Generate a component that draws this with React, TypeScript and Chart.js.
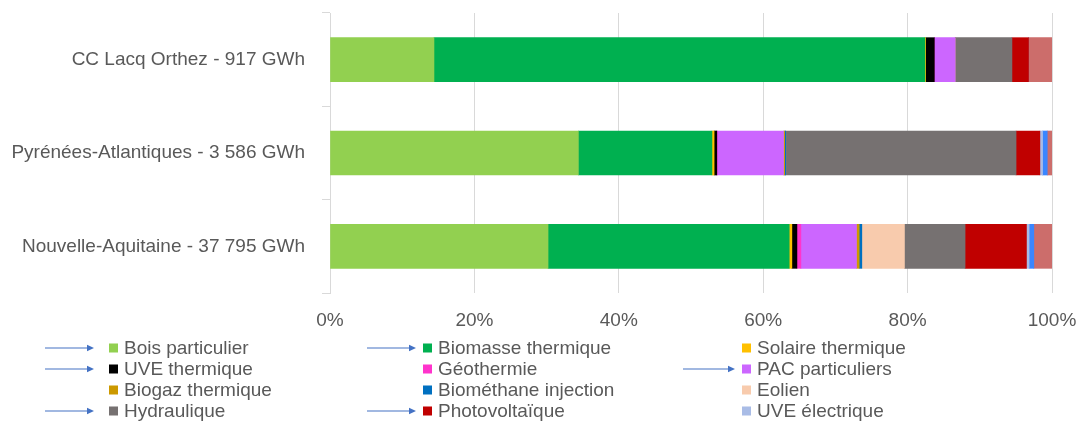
import React, { useEffect, useRef } from "react";
import { Chart, registerables } from "chart.js";

Chart.register(...registerables);

const categories = [
  "CC Lacq Orthez - 917 GWh",
  "Pyrénées-Atlantiques - 3 586 GWh",
  "Nouvelle-Aquitaine - 37 795 GWh",
];

const seriesNames = [
  "Bois particulier",
  "Biomasse thermique",
  "Solaire thermique",
  "UVE thermique",
  "Géothermie",
  "PAC particuliers",
  "Biogaz thermique",
  "Biométhane injection",
  "Eolien",
  "Hydraulique",
  "Photovoltaïque",
  "UVE électrique",
  "Autre (non légendé) 1",
  "Autre (non légendé) 2",
];

const seriesColors = [
  "#92D050",
  "#00B050",
  "#FFC000",
  "#000000",
  "#FF33CC",
  "#CC66FF",
  "#CC9900",
  "#0070C0",
  "#F8CBAD",
  "#767171",
  "#C00000",
  "#A9BCE6",
  "#3A86FF",
  "#CC6D6B",
];

// values in % (share of each region's production)
const boisParticulier = [14.4, 34.4, 30.2];
const biomasseThermique = [68.0, 18.5, 33.4];
const solaireThermique = [0.1, 0.3, 0.37];
const uveThermique = [1.2, 0.37, 0.7];
const geothermie = [0, 0.05, 0.55];
const pacParticuliers = [2.9, 9.2, 7.7];
const biogazThermique = [0, 0.15, 0.37];
const biomethaneInjection = [0, 0.15, 0.37];
const eolien = [0, 0, 5.9];
const hydraulique = [7.85, 31.9, 8.4];
const photovoltaique = [2.3, 3.3, 8.5];
const uveElectrique = [0, 0.37, 0.37];
const autre1 = [0, 0.65, 0.65];
const autre2 = [3.25, 0.65, 2.5];

const seriesValues = [
  boisParticulier,
  biomasseThermique,
  solaireThermique,
  uveThermique,
  geothermie,
  pacParticuliers,
  biogazThermique,
  biomethaneInjection,
  eolien,
  hydraulique,
  photovoltaique,
  uveElectrique,
  autre1,
  autre2,
];

const legendCount = 12;
const arrowSeries = [
  "Bois particulier",
  "UVE thermique",
  "Hydraulique",
  "Biomasse thermique",
  "Photovoltaïque",
  "PAC particuliers",
];

const xTicks = [0, 20, 40, 60, 80, 100];

const FONT = '"Liberation Sans", Arial, sans-serif';
const TEXT_COLOR = "#595959";

const legendPlugin = {
  id: "customLegend",
  afterDraw(chart: any) {
    const ctx = chart.ctx;
    const squareX = [109, 423, 742];
    const textX = [124, 438, 757];
    const arrowStart = [45, 367, 683];
    const arrowEnd = [94, 416, 735];
    const rowY = [348, 369, 390, 411];
    ctx.save();
    ctx.font = `19px ${FONT}`;
    ctx.textBaseline = "middle";
    ctx.textAlign = "left";
    for (let i = 0; i < legendCount; i++) {
      const col = i % 3;
      const row = Math.floor(i / 3);
      const y = rowY[row];
      const ds = chart.data.datasets[i];
      ctx.fillStyle = ds.backgroundColor;
      ctx.fillRect(squareX[col], y - 4.5, 9, 9);
      ctx.fillStyle = TEXT_COLOR;
      ctx.fillText(ds.label, textX[col], y + 1);
      if (arrowSeries.includes(ds.label)) {
        ctx.strokeStyle = "#4472C4";
        ctx.fillStyle = "#4472C4";
        ctx.lineWidth = 1.2;
        ctx.beginPath();
        ctx.moveTo(arrowStart[col], y);
        ctx.lineTo(arrowEnd[col] - 6, y);
        ctx.stroke();
        ctx.beginPath();
        ctx.moveTo(arrowEnd[col], y);
        ctx.lineTo(arrowEnd[col] - 7, y - 3.2);
        ctx.lineTo(arrowEnd[col] - 7, y + 3.2);
        ctx.closePath();
        ctx.fill();
      }
    }
    ctx.restore();
  },
};

export default function App() {
  const canvasRef = useRef<HTMLCanvasElement | null>(null);

  useEffect(() => {
    if (!canvasRef.current) return;
    const chart = new Chart(canvasRef.current, {
      type: "bar",
      data: {
        labels: categories,
        datasets: seriesNames.map((name, i) => ({
          label: name,
          data: seriesValues[i],
          backgroundColor: seriesColors[i],
          borderWidth: 0,
          barThickness: 44,
        })),
      },
      options: {
        indexAxis: "y",
        animation: false,
        responsive: false,
        maintainAspectRatio: false,
        layout: { padding: { top: 13, right: 27, bottom: 90, left: 0 } },
        plugins: {
          legend: { display: false },
          tooltip: { enabled: false },
        },
        scales: {
          x: {
            stacked: true,
            min: 0,
            max: 100,
            afterBuildTicks: (scale: any) => {
              scale.ticks = xTicks.map((v) => ({ value: v }));
            },
            afterFit: (scale: any) => {
              scale.height = 40;
              scale.paddingLeft = 0;
              scale.paddingRight = 0;
              scale.paddingTop = 0;
              scale.paddingBottom = 0;
            },
            ticks: {
              padding: 16,
              color: TEXT_COLOR,
              font: { family: FONT, size: 19 },
              callback: (v: any) => `${v}%`,
            },
            grid: {
              color: "#D9D9D9",
              drawTicks: false,
              lineWidth: 1,
            },
            border: { display: false },
          },
          y: {
            stacked: true,
            afterFit: (scale: any) => {
              scale.width = 330;
              scale.paddingLeft = 0;
              scale.paddingRight = 0;
              scale.paddingTop = 0;
              scale.paddingBottom = 0;
            },
            ticks: {
              padding: 17,
              color: TEXT_COLOR,
              font: { family: FONT, size: 19 },
            },
            grid: {
              color: "#D9D9D9",
              drawOnChartArea: false,
              drawTicks: true,
              tickLength: 8,
            },
            border: { display: true, color: "#D9D9D9" },
          },
        },
      },
      plugins: [legendPlugin],
    });
    return () => chart.destroy();
  }, []);

  return (
    <div
      style={{
        position: "absolute",
        left: 0,
        top: 0,
        width: 1079,
        height: 423,
        background: "#ffffff",
      }}
    >
      <canvas ref={canvasRef} width={1079} height={423} />
    </div>
  );
}
